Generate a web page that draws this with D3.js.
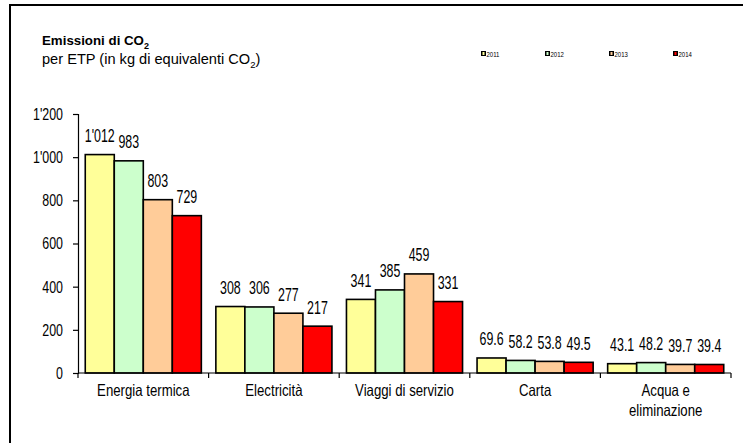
<!DOCTYPE html>
<html>
<head>
<meta charset="utf-8">
<script src="https://cdn.jsdelivr.net/npm/d3@7"></script>
<style>
  html, body { margin: 0; padding: 0; background: #fff; }
  svg { display: block; }
  text { font-family: "Liberation Sans Narrow", "Arial Narrow", "Liberation Sans", Arial, sans-serif; fill: #000; }
</style>
</head>
<body>
<svg id="chart" width="743" height="443"></svg>
<script>
const categories = ["Energia termica", "Electricità", "Viaggi di servizio", "Carta", "Acqua e\neliminazione"];
const years = ["2011", "2012", "2013", "2014"];
const values2011 = [1012, 308, 341, 69.6, 43.1];
const values2012 = [983, 306, 385, 58.2, 48.2];
const values2013 = [803, 277, 459, 53.8, 39.7];
const values2014 = [729, 217, 331, 49.5, 39.4];
const valueLabels2011 = ["1'012", "308", "341", "69.6", "43.1"];
const valueLabels2012 = ["983", "306", "385", "58.2", "48.2"];
const valueLabels2013 = ["803", "277", "459", "53.8", "39.7"];
const valueLabels2014 = ["729", "217", "331", "49.5", "39.4"];
const yTicks = [0, 200, 400, 600, 800, 1000, 1200];
const yTickLabels = ["0", "200", "400", "600", "800", "1'000", "1'200"];
const colors = ["#FFFF99", "#CCFFCC", "#FFCC99", "#FF0000"];

const seriesValues = [values2011, values2012, values2013, values2014];
const seriesLabels = [valueLabels2011, valueLabels2012, valueLabels2013, valueLabels2014];

const svg = d3.select("#chart");

// outer frame
svg.append("rect").attr("x", 10).attr("y", 5).attr("width", 800).attr("height", 500)
  .attr("fill", "none").attr("stroke", "#000").attr("stroke-width", 2);

// title
const t = svg.append("text").attr("x", 42).attr("y", 45).attr("font-size", 13.3).attr("font-weight", "bold");
t.append("tspan").text("Emissioni di CO");
t.append("tspan").attr("font-size", 9).attr("dy", 4).text("2");
const sub = svg.append("text").attr("x", 42).attr("y", 64).attr("font-size", 14.6);
sub.append("tspan").text("per ETP (in kg di equivalenti CO");
sub.append("tspan").attr("font-size", 9.5).attr("dy", 4).text("2");
sub.append("tspan").attr("dy", -4).text(")");

// legend
const legendX = d3.scalePoint().domain(years).range([481, 673]);
const lg = svg.append("g").selectAll("g").data(years).join("g")
  .attr("transform", d => `translate(${legendX(d)},51)`);
lg.append("rect").attr("width", 5).attr("height", 5).attr("fill", "#000");
lg.append("rect").attr("x", 1.5).attr("y", 1).attr("width", 2).attr("height", 3).attr("fill", (d, i) => colors[i]);
lg.append("text").attr("transform", "translate(5.5,5.5) scale(0.8,1)").attr("font-size", 7.5).text(d => d);

// scales
const y = d3.scaleLinear().domain([0, 1200]).range([373, 114]);
const x0 = d3.scaleBand().domain(categories).range([78, 731]).padding(0);
const x1 = d3.scaleBand().domain(years).range([0, x0.bandwidth()]).paddingInner(0).paddingOuter(0.25);

// y axis
const yAxis = d3.axisLeft(y).tickValues(yTicks).tickFormat((d, i) => yTickLabels[i]).tickSize(5).tickPadding(10);
const ya = svg.append("g").attr("transform", "translate(78,0)").call(yAxis);
ya.select(".domain").attr("stroke", "#000").attr("stroke-width", 1.2);
ya.selectAll(".tick line").attr("stroke", "#000").attr("stroke-width", 1.2);
ya.selectAll(".tick text").attr("font-size", 17).attr("font-family", null).attr("fill", "#000")
  .attr("x", 0).attr("transform", "translate(-15,0) scale(0.73,1)");

// bars
const groups = svg.append("g").selectAll("g").data(categories).join("g")
  .attr("transform", d => `translate(${x0(d)},0)`);
years.forEach((yr, si) => {
  groups.append("rect")
    .attr("x", x1(yr))
    .attr("y", (d, ci) => y(seriesValues[si][ci]))
    .attr("width", x1.bandwidth())
    .attr("height", (d, ci) => y(0) - y(seriesValues[si][ci]))
    .attr("fill", colors[si])
    .attr("stroke", "#000").attr("stroke-width", 1.6);
});
years.forEach((yr, si) => {
  groups.append("text")
    .attr("transform", (d, ci) =>
      `translate(${x1(yr) + x1.bandwidth() / 2},${y(seriesValues[si][ci]) - 12.5}) scale(0.69,1)`)
    .attr("text-anchor", "middle").attr("font-size", 18)
    .text((d, ci) => seriesLabels[si][ci]);
});

// x axis
const boundaries = categories.map(c => x0(c)).concat([x0.range()[1]]);
const xa = svg.append("g");
xa.append("line").attr("x1", 78).attr("x2", 731).attr("y1", y(0)).attr("y2", y(0))
  .attr("stroke", "#000").attr("stroke-width", 1.2);
xa.selectAll("line.t").data(boundaries).join("line").attr("class", "t")
  .attr("x1", d => d).attr("x2", d => d).attr("y1", y(0)).attr("y2", y(0) + 5)
  .attr("stroke", "#000").attr("stroke-width", 1.2);
const cl = xa.selectAll("text").data(categories).join("text")
  .attr("transform", d => `translate(${x0(d) + x0.bandwidth() / 2},396) scale(0.8,1)`)
  .attr("text-anchor", "middle").attr("font-size", 16.5);
cl.each(function(d) {
  d3.select(this).selectAll("tspan").data(d.split("\n")).join("tspan")
    .attr("x", 0)
    .attr("dy", (l, i) => i === 0 ? 0 : 20.5)
    .text(l => l);
});
</script>
</body>
</html>
